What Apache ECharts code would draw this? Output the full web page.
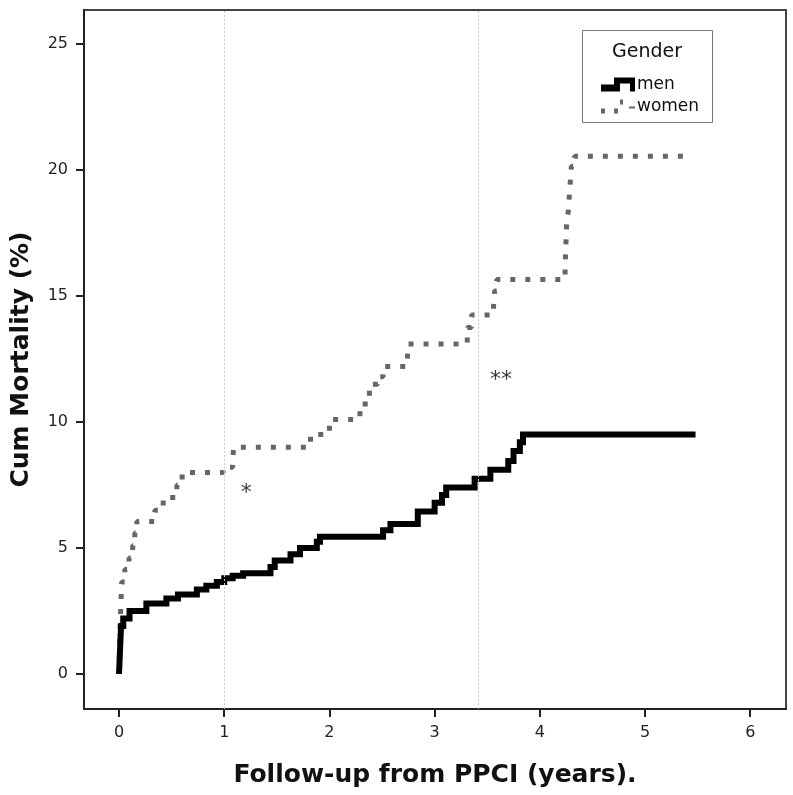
<!DOCTYPE html>
<html>
<head>
<meta charset="utf-8">
<script src="https://cdn.jsdelivr.net/npm/echarts@6/dist/echarts.min.js"></script>
<style>html,body{margin:0;padding:0;background:#fff}#c{width:793px;height:795px}</style>
</head>
<body>
<div id="c"></div>
<script>
// Cumulative mortality (%) step points: [years, %]
const menData = [[0,0],[0.005,0.5],[0.01,1.0],[0.015,1.5],[0.02,1.9],[0.04,2.2],[0.1,2.5],[0.26,2.8],[0.45,3.0],[0.56,3.15],[0.74,3.35],[0.83,3.5],[0.93,3.65],[1.0,3.8],[1.08,3.9],[1.18,4.0],[1.44,4.25],[1.48,4.5],[1.63,4.75],[1.72,5.0],[1.88,5.25],[1.91,5.45],[2.51,5.7],[2.58,5.95],[2.84,6.45],[3.0,6.8],[3.07,7.1],[3.11,7.4],[3.38,7.75],[3.53,8.1],[3.70,8.45],[3.75,8.85],[3.81,9.2],[3.84,9.5],[5.48,9.5]];
const womenData = [[0,0],[0.005,1.0],[0.01,2.0],[0.015,2.45],[0.02,3.05],[0.025,3.65],[0.055,4.15],[0.095,4.6],[0.13,5.1],[0.15,5.6],[0.17,6.05],[0.34,6.5],[0.42,7.0],[0.55,7.5],[0.60,8.0],[0.99,8.2],[1.08,8.5],[1.09,9.0],[1.82,9.5],[1.96,9.65],[2.0,10.1],[2.29,10.55],[2.34,10.95],[2.38,11.5],[2.46,11.8],[2.51,12.2],[2.74,12.5],[2.75,13.1],[3.31,13.75],[3.35,14.25],[3.56,14.6],[3.57,15.2],[3.59,15.65],[4.24,16.1],[4.245,16.7],[4.25,17.3],[4.255,18.0],[4.27,18.35],[4.28,18.95],[4.29,19.55],[4.30,20.15],[4.33,20.55],[5.36,20.55]];
const xTicks = [0,1,2,3,4,5,6];
const yTicks = [0,5,10,15,20,25];
const refLines = [1, 3.41];
const annotations = [{text:'*', x:1.21, y:7.18}, {text:'**', x:3.63, y:11.67}];
const seriesNames = ['men','women'];
const legendTitle = 'Gender';
const xName = 'Follow-up from PPCI (years).';
const yName = 'Cum Mortality (%)';

const menIcon = 'path://M0,7 H13 V0 H34 V14 H29 V6 H19 V14 H0 Z';
const womenIcon = 'path://M0,9 h4 v5 h-4 Z M13,9 h4 v5 h-4 Z M19,0 h3 v5 h-3 Z M28,7 h6 v2 h-6 Z';

const chart = echarts.init(document.getElementById('c'), null, {renderer:'canvas'});
const font = 'DejaVu Sans';
chart.setOption({
  animation:false,
  backgroundColor:'#fff',
  grid:{left:84, right:7, top:10, bottom:86, show:true, borderColor:'#444', borderWidth:2, backgroundColor:'transparent', outerBoundsMode:'none', containLabel:false},
  xAxis:{type:'value', min:-0.333, max:6.34,
    name:xName, nameLocation:'middle', nameGap:54,
    nameTextStyle:{fontFamily:font, fontWeight:'bold', fontSize:25, color:'#111'},
    axisLine:{show:true, onZero:false, lineStyle:{color:'#222', width:2}},
    axisTick:{show:true, length:8, customValues:xTicks, lineStyle:{color:'#222', width:2}},
    axisLabel:{customValues:xTicks, margin:16, fontFamily:font, fontSize:16, color:'#222'},
    splitLine:{show:false}},
  yAxis:{type:'value', min:-1.39, max:26.35,
    name:yName, nameLocation:'middle', nameGap:50,
    nameTextStyle:{fontFamily:font, fontWeight:'bold', fontSize:25, color:'#111'},
    axisLine:{show:true, onZero:false, lineStyle:{color:'#222', width:2}},
    axisTick:{show:true, length:8, customValues:yTicks, lineStyle:{color:'#222', width:2}},
    axisLabel:{customValues:yTicks, margin:16, fontFamily:font, fontSize:16, color:'#222'},
    splitLine:{show:false}},
  legend:{show:true, orient:'vertical', left:596, top:70, itemGap:3, itemWidth:34, itemHeight:14,
    symbolKeepAspect:false, itemStyle:{borderWidth:0},
    data:[{name:seriesNames[0], icon:menIcon, itemStyle:{color:'#000'}},
          {name:seriesNames[1], icon:womenIcon, itemStyle:{color:'#666'}}],
    textStyle:{fontFamily:font, fontSize:17, color:'#111', lineHeight:19, padding:[0,0,0,-3]}},
  graphic:[
    {type:'rect', shape:{x:582.5, y:30.5, width:130, height:92}, style:{fill:'#fff', stroke:'#777', lineWidth:1}, z:-1},
    {type:'text', x:647, y:43, style:{text:legendTitle, font:'19px "DejaVu Sans"', fill:'#111', textAlign:'center'}}
  ],
  series:[
    {name:seriesNames[0], type:'line', step:'end', data:menData, showSymbol:false, symbol:'none',
     lineStyle:{color:'#000', width:6, cap:'butt', join:'miter'}, itemStyle:{color:'#000'}, z:3,
     markLine:{silent:true, symbol:'none', label:{show:false},
       lineStyle:{color:'#c8c8c8', width:1, type:[2,2]},
       data:refLines.map(v=>({xAxis:v}))}},
    {name:seriesNames[1], type:'line', step:'end', data:womenData, showSymbol:false, symbol:'none',
     lineStyle:{color:'#666', width:5, type:[5,10], cap:'butt'}, itemStyle:{color:'#666'}, z:2},
    {type:'scatter', data:annotations.map(a=>({value:[a.x,a.y], name:a.text})), symbolSize:0, silent:true,
     label:{show:true, position:'inside', formatter:p=>p.name, fontFamily:'DejaVu Sans', fontSize:22, color:'#000'}, z:4}
  ]
});
</script>
</body>
</html>
